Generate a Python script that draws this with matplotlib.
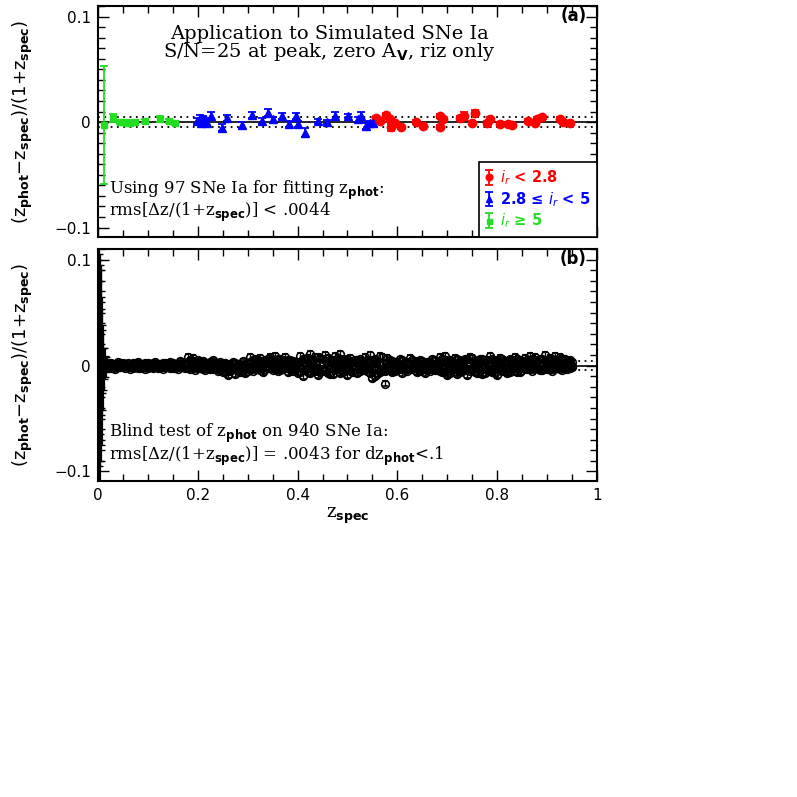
import matplotlib
matplotlib.use('Agg')
import matplotlib.pyplot as plt
from matplotlib.ticker import MultipleLocator, FixedLocator

# ---------------- Panel (a) data ----------------
z_red = [0.558, 0.565, 0.578, 0.585, 0.588, 0.595, 0.608, 0.638, 0.652, 0.685,
         0.686, 0.692, 0.725, 0.733, 0.749, 0.755, 0.779, 0.785, 0.805, 0.822,
         0.829, 0.862, 0.875, 0.879, 0.889, 0.926, 0.932, 0.946]
dz_red = [0.004, 0.001, 0.007, 0.0025, -0.005, -0.001, -0.005, 0.000, -0.004, 0.0057,
          -0.005, 0.0025, 0.004, 0.0057, -0.001, 0.009, -0.001, 0.0025, -0.002, -0.002,
          -0.003, 0.001, -0.0006, 0.003, 0.005, 0.003, 0.000, -0.001]
err_red = [0.002, 0.002, 0.002, 0.002, 0.003, 0.002, 0.002, 0.002, 0.002, 0.002,
           0.002, 0.002, 0.002, 0.004, 0.002, 0.002, 0.002, 0.002, 0.002, 0.002,
           0.002, 0.002, 0.002, 0.002, 0.002, 0.002, 0.002, 0.002]

z_blue = [0.198, 0.204, 0.207, 0.211, 0.215, 0.218, 0.226, 0.248, 0.259, 0.288,
          0.308, 0.328, 0.341, 0.351, 0.368, 0.383, 0.397, 0.401, 0.415, 0.441,
          0.458, 0.475, 0.502, 0.522, 0.528, 0.537, 0.545, 0.552]
dz_blue = [0.001, 0.004, -0.001, 0.0025, 0.002, -0.0006, 0.0057, -0.0053, 0.004, -0.003,
           0.007, 0.001, 0.009, 0.0025, 0.0057, -0.002, 0.0057, -0.002, -0.010, 0.001,
           0.000, 0.0057, 0.0057, 0.0025, 0.0057, -0.004, -0.0013, -0.0013]
err_blue = [0.003, 0.003, 0.002, 0.003, 0.002, 0.003, 0.004, 0.003, 0.003, 0.003,
            0.003, 0.003, 0.003, 0.002, 0.003, 0.003, 0.003, 0.003, 0.004, 0.002,
            0.002, 0.004, 0.002, 0.002, 0.004, 0.003, 0.002, 0.002]

z_green = [0.012, 0.030, 0.045, 0.052, 0.058, 0.065, 0.075, 0.095, 0.125, 0.143, 0.155]
dz_green = [-0.003, 0.004, 0.000, 0.000, -0.001, -0.0005, 0.000, 0.001, 0.003, 0.001, -0.001]
err_green = [0.056, 0.004, 0.002, 0.002, 0.002, 0.002, 0.002, 0.002, 0.003, 0.002, 0.002]

rms_a = 0.0044

# ---------------- Panel (b) data ----------------
z_b = [0.020, 0.025, 0.030, 0.035, 0.040, 0.045, 0.050, 0.055, 0.060, 0.065,
       0.070, 0.075, 0.080, 0.085, 0.090, 0.095, 0.100, 0.105, 0.110, 0.115,
       0.120, 0.125, 0.130, 0.135, 0.140, 0.145, 0.150, 0.155, 0.160, 0.165,
       0.170, 0.175, 0.180, 0.185, 0.190, 0.195, 0.200, 0.205, 0.210, 0.215,
       0.220, 0.225, 0.230, 0.235, 0.240, 0.245, 0.250, 0.255, 0.260, 0.265,
       0.270, 0.275, 0.280, 0.285, 0.290, 0.295, 0.300, 0.305, 0.310, 0.315,
       0.320, 0.325, 0.330, 0.335, 0.340, 0.345, 0.350, 0.355, 0.360, 0.365,
       0.370, 0.375, 0.380, 0.385, 0.390, 0.395, 0.400, 0.405, 0.410, 0.415,
       0.420, 0.425, 0.430, 0.435, 0.440, 0.445, 0.450, 0.455, 0.460, 0.465,
       0.470, 0.475, 0.480, 0.485, 0.490, 0.495, 0.500, 0.505, 0.510, 0.515,
       0.520, 0.525, 0.530, 0.535, 0.540, 0.545, 0.550, 0.555, 0.560, 0.565,
       0.570, 0.575, 0.580, 0.585, 0.590, 0.595, 0.600, 0.605, 0.610, 0.615,
       0.620, 0.625, 0.630, 0.635, 0.640, 0.645, 0.650, 0.655, 0.660, 0.665,
       0.670, 0.675, 0.680, 0.685, 0.690, 0.695, 0.700, 0.705, 0.710, 0.715,
       0.720, 0.725, 0.730, 0.735, 0.740, 0.745, 0.750, 0.755, 0.760, 0.765,
       0.770, 0.775, 0.780, 0.785, 0.790, 0.795, 0.800, 0.805, 0.810, 0.815,
       0.820, 0.825, 0.830, 0.835, 0.840, 0.845, 0.850, 0.855, 0.860, 0.865,
       0.870, 0.875, 0.880, 0.885, 0.890, 0.895, 0.900, 0.905, 0.910, 0.915,
       0.920, 0.925, 0.930, 0.935, 0.940, 0.945, 0.950]
# values in units of 0.001
dz_b1 = [2, -2, 1, -3, 3, -1, 2, -2, 0, -3, 2,
         -1, 3, -2, 1, -3, 2, 0, -2, 3, -1, 1,
         -3, 2, -1, 3, -2, 1, -3, 4, -1, 2,
         8, -3, 7, -4, 5,
         -2, 4, -4, 2, -3, 5, -1, -5, 3, -6,
         2, -9, -4, 3, -8, 1, -6, 4, -7, 2,
         8, -5, 6, -3, 7, -6, 5, -2, 8, -4, 9, -5, 6, -3, 8, -6,
         5, -5, 3, -7,
         9, -10, 6, -6, 11, -4, 8, -9, 7, -3, 10, -7, 5, -8, 9, -5, 11, -6, 4, -9,
         7, -6, 5, -7, 6, -4, 8, -5,
         10, -12, 6, -8, 9, -5, -17, 7,
         5, -6, 3, -4, 6, -7, 2, -5, 7, -3, 4, -6, 5, -2, -7, 3, -5, 6, -4, 2,
         8, -6, 9, -9, 5, -4, 7, -8, 3, -5, 6, -9, 8, -3, 4, -7, 6, -8, 5, -4,
         9, -6, 3, -9, 7, -5, 4, -7, 6, -3, 8, -6, 5, -4,
         7, -3, 9, -5, 8, -2, 6, -4, 10, -3, 7, -5, 9, -2, 8, -4, 6, -3, 5, -1]
dz_b2 = [0, 1, -1, 0, 1, -1, 0, 1, -1, 0, 1,
         0, -1, 1, 0, -1, 1, 0, -1, 1, 0, -1,
         1, 0, -1, 1, 0, -1, 1, 0, -1, 1,
         3, 0, 2, -1, 1,
         1, -1, 2, -2, 0, 1, -2, 1, -1, 0,
         -2, -4, 0, -3, -2, -1, -3, 0, -2, -1,
         3, 0, 2, -1, 3, 1, 2, -2, 4, 0, 3, -1, 2, 0, 3, -2,
         1, -2, 2, -1,
         3, -3, 2, -2, 4, 0, 3, -4, 2, 1, -3, 3, -2, 2, -1, 4, -3, 1, -2, 3,
         2, -2, 3, -1, 2, -3, 1, -2,
         3, -4, 2, -2, 1, -3, -1, 2,
         1, -2, 2, -1, 0, -3, 2, -2, 1, 0, -1, 2, -2, 1, -3, 0, 2, -1, 1, -2,
         3, -2, 2, -4, 1, 0, -3, 2, -1, 3, -2, 0, 2, -3, 1, -1, 3, -2, 0, 2,
         -4, 1, -2, 3, -1, 0, 2, -3, 1, -2, 3, -1, 0, 2,
         3, 1, 4, 0, 3, -1, 2, 1, 4, 0, 3, -1, 2, 1, 3, 0, 2, -1, 2, 0]
dz_b3 = [-1, 2, -2, 1, -1, 2, -1, 0, 2, -1, -2,
         2, -2, 0, -1, 2, -2, 1, 2, -1, -2, 0,
         2, -1, 1, -2, 2, -2, 1, -1, 2, -2,
         -2, 5, -1, 4, -2,
         3, -3, 0, -1, 3, -3, 2, -2, -4, 2,
         -6, 1, -5, -1, 2, -5, 1, -4, -1, -5,
         -3, 5, -2, 5, -4, 4, -3, 6, -2, 5, -3, 6, -4, 5, -2, 5,
         -3, 4, -4, 2,
         -6, 6, -4, 7, -7, 5, -5, 8, -6, 6, -5, 7, -8, 5, -3, 7, -7, 6, -5, 6,
         -4, 4, -3, 5, -5, 4, -3, 5,
         -7, 5, -10, 4, -6, 8, -5, -4,
         -4, 4, -5, 3, -3, 5, -4, 3, -2, 5, -4, 3, -5, 4, 2, -4, 3, -3, 5, -4,
         -5, 6, -6, 5, -7, 4, -5, 6, -6, 5, -4, 6, -5, 7, -6, 4, -5, 6, -7, 5,
         -5, 6, -7, 5, -3, 6, -5, 4, -6, 5, -4, 6, -6, 4,
         -2, 5, -3, 6, -2, 5, -4, 6, -1, 5, -3, 6, -2, 5, -3, 6, -2, 4, -2, 3]
err_b = 0.0025

# very low-z points with large errors
z_s = [0.001, 0.002, 0.003, 0.004, 0.005, 0.006, 0.007, 0.008, 0.009, 0.010,
       0.012, 0.014, 0.016, 0.018]
dz_s = [0.010, -0.010, 0.005, -0.020, 0.000, 0.015, -0.005, 0.003, -0.002, 0.004,
        -0.003, 0.002, -0.001, 0.001]
err_s = [0.12, 0.11, 0.10, 0.10, 0.09, 0.08, 0.07, 0.05, 0.04, 0.03,
         0.02, 0.015, 0.010, 0.007]
rms_b = 0.0043

x_ticks = [0, 0.2, 0.4, 0.6, 0.8, 1.0]
x_ticklabels = ['0', '0.2', '0.4', '0.6', '0.8', '1']
y_ticks = [-0.1, 0, 0.1]
y_ticklabels = ['\u22120.1', '0', '0.1']

# ---------------- Figure ----------------
fig = plt.figure(figsize=(7.97, 7.97), dpi=100)
ax1 = fig.add_axes([0.123, 0.7026, 0.626, 0.2898])
ax2 = fig.add_axes([0.123, 0.3965, 0.626, 0.291])

serif = 'DejaVu Serif'

for ax, r in ((ax1, rms_a), (ax2, rms_b)):
    ax.set_xlim(0, 1)
    ax.set_ylim(-0.109, 0.11)
    ax.axhline(0, color='black', lw=1.2, zorder=1)
    ax.axhline(r, color='black', lw=1.3, ls=(0, (1, 2.5)), zorder=1)
    ax.axhline(-r, color='black', lw=1.3, ls=(0, (1, 2.5)), zorder=1)
    ax.xaxis.set_major_locator(FixedLocator(x_ticks))
    ax.xaxis.set_minor_locator(MultipleLocator(0.05))
    ax.yaxis.set_major_locator(FixedLocator(y_ticks))
    ax.yaxis.set_minor_locator(MultipleLocator(0.01))
    ax.tick_params(which='both', direction='in', top=True, right=True, width=1.0)
    ax.tick_params(which='major', length=8, labelsize=11, pad=5)
    ax.tick_params(which='minor', length=5)
    for s in ax.spines.values():
        s.set_linewidth(1.5)
    ax.set_yticklabels(y_ticklabels)

ax1.tick_params(labelbottom=False)
ax2.set_xticklabels(x_ticklabels)

# panel (a)
hr = ax1.errorbar(z_red, dz_red, yerr=err_red, fmt='o', color='red', ms=6,
                  capsize=3, elinewidth=1.3, capthick=1.3, zorder=3)
hb = ax1.errorbar(z_blue, dz_blue, yerr=err_blue, fmt='^', color='blue', ms=5.5,
                  capsize=3, elinewidth=1.3, capthick=1.3, zorder=3)
hg = ax1.errorbar(z_green, dz_green, yerr=err_green, fmt='s', color='#22dd22', ms=4.5,
                  capsize=3, elinewidth=1.3, capthick=1.3, zorder=3)

leg = ax1.legend([hr, hb, hg],
                 ['$i_r$ < 2.8', '2.8 \u2264 $i_r$ < 5', '$i_r$ \u2265 5'],
                 loc='lower right', fancybox=False, edgecolor='black',
                 framealpha=1, borderaxespad=0, handlelength=0.5,
                 handletextpad=0.5, fontsize=10.5, borderpad=0.45,
                 labelspacing=0.2, markerscale=0.8)
leg.get_frame().set_linewidth(1.2)
for t, c in zip(leg.get_texts(), ['red', 'blue', '#22dd22']):
    t.set_color(c)
    t.set_fontweight('bold')

ax1.text(0.463, 0.88, 'Application to Simulated SNe Ia', transform=ax1.transAxes,
         ha='center', va='center', fontsize=14, family=serif)
ax1.text(0.463, 0.80, 'S/N=25 at peak, zero A$_{\\mathbf{V}}$, riz only',
         transform=ax1.transAxes, ha='center', va='center', fontsize=14, family=serif)
ax1.text(0.98, 0.955, '(a)', transform=ax1.transAxes, ha='right', va='center',
         fontsize=12, fontweight='bold')
ax1.text(0.022, 0.155, 'Using 97 SNe Ia for fitting z$_{\\mathbf{phot}}$:\n'
         'rms[\u0394z/(1+z$_{\\mathbf{spec}}$)] < .0044',
         transform=ax1.transAxes, ha='left', va='center', fontsize=12, family=serif,
         linespacing=0.95)

# panel (b)
ax2.errorbar(z_s, dz_s, yerr=err_s, fmt='o', mfc='none', mec='black', color='black',
             ms=4, capsize=2, elinewidth=1.6, zorder=3)
for vals in (dz_b1, dz_b2, dz_b3):
    ax2.errorbar(z_b, [v * 0.001 for v in vals], yerr=err_b, fmt='o', mfc='none',
                 mec='black', color='black', ms=5.5, mew=1.2, capsize=2.5,
                 elinewidth=1.0, zorder=3)

ax2.text(0.98, 0.955, '(b)', transform=ax2.transAxes, ha='right', va='center',
         fontsize=12, fontweight='bold')
ax2.text(0.022, 0.155, 'Blind test of z$_{\\mathbf{phot}}$ on 940 SNe Ia:\n'
         'rms[\u0394z/(1+z$_{\\mathbf{spec}}$)] = .0043 for dz$_{\\mathbf{phot}}$<.1',
         transform=ax2.transAxes, ha='left', va='center', fontsize=12, family=serif,
         linespacing=0.95)
ax2.set_xlabel('z$_{\\mathbf{spec}}$', fontsize=13, family=serif, labelpad=2)

ylab = '(z$_{\\mathbf{phot}}$\u2212z$_{\\mathbf{spec}}$)/(1+z$_{\\mathbf{spec}}$)'
for ax in (ax1, ax2):
    ax.set_ylabel(ylab, fontsize=13, labelpad=14)

fig.savefig('out.png', dpi=100)
